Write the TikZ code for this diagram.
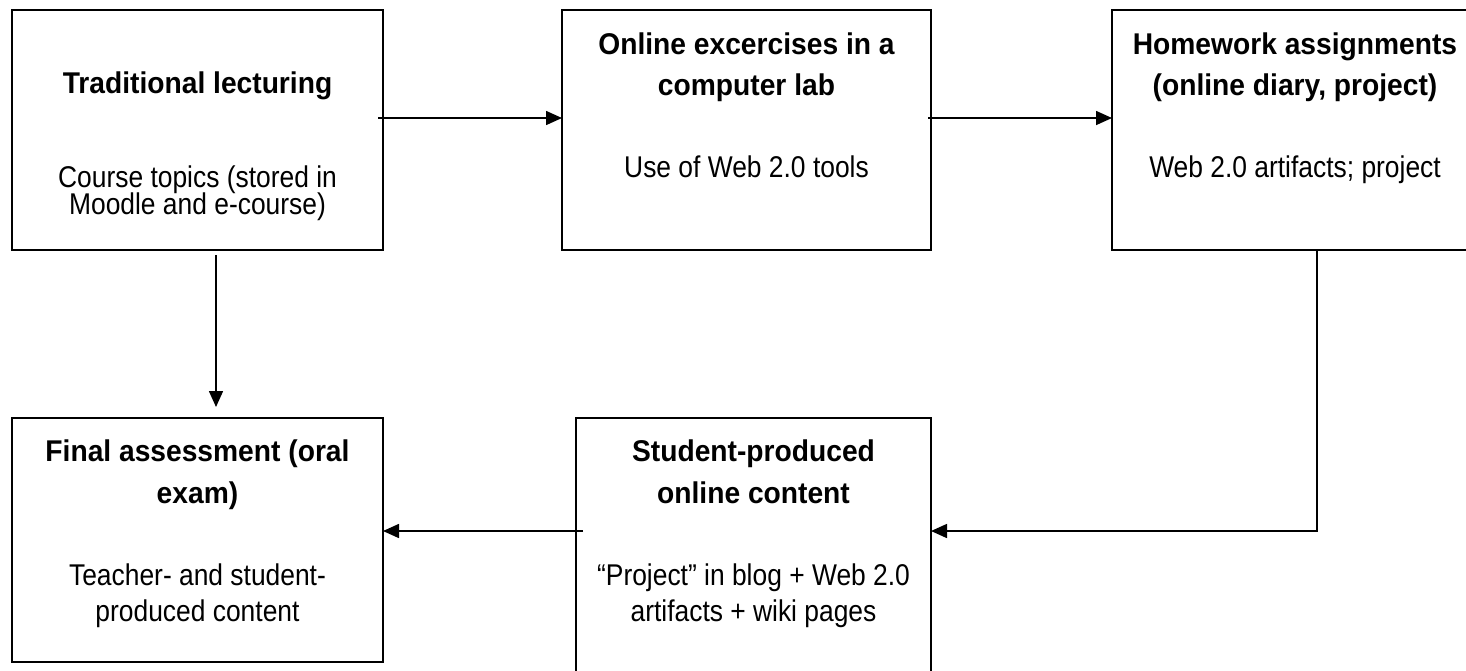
\documentclass[tikz,border=0pt]{standalone}
\usepackage{fontspec}
\setmainfont{Liberation Sans}
\newfontfamily\bodyfont{Liberation Sans}[FakeStretch=0.88,Ligatures=TeX]
\newfontfamily\titlefont{Liberation Sans}[FakeStretch=0.94,Ligatures=TeX]
\usetikzlibrary{arrows.meta}
\begin{document}
\begin{tikzpicture}[x=1pt,y=-1pt,
  box/.style={draw,line width=1.6pt,inner sep=0pt,outer sep=0pt},
  ttl/.style={anchor=base,inner sep=0pt,font=\titlefont\bfseries\fontsize{30}{36}\selectfont},
  bdy/.style={anchor=base,inner sep=0pt,font=\bodyfont\fontsize{30}{36}\selectfont},
  arr/.style={line width=1.6pt,-{Triangle[length=16pt,width=14pt]}}]
\clip (0,0) rectangle (1466,670);
\fill[white] (0,0) rectangle (1466,670);
% boxes
\node[box,minimum width=371pt,minimum height=240pt] (b1) at (197.5,130) {};
\node[box,minimum width=369pt,minimum height=240pt] (b2) at (746.5,130) {};
\node[box,minimum width=366pt,minimum height=240pt] (b3) at (1295,130) {};
\node[box,minimum width=371pt,minimum height=244pt] (b4) at (197.5,540) {};
\node[box,minimum width=355pt,minimum height=262pt] (b5) at (753.5,549) {};
% texts box 1
\node[ttl] (t1) at (197.5,93) {Traditional lecturing};
\node[bdy] (s1a) at (197.5,187) {Course topics (stored in};
\node[bdy] (s1b) at (197.5,214.5) {Moodle and e-course)};
% box 2
\node[ttl] (t2a) at (746.5,54) {Online excercises in a};
\node[ttl] (t2b) at (746.5,95.7) {computer lab};
\node[bdy] (s2) at (746.5,177) {Use of Web 2.0 tools};
% box 3
\node[ttl] (t3a) at (1295,54) {Homework assignments};
\node[ttl] (t3b) at (1295,95.7) {(online diary, project)};
\node[bdy] (s3) at (1295,177) {Web 2.0 artifacts; project};
% box 4
\node[ttl] (t4a) at (197.5,461.7) {Final assessment (oral};
\node[ttl] (t4b) at (197.5,503.3) {exam)};
\node[bdy] (s4a) at (197.5,585) {Teacher- and student-};
\node[bdy] (s4b) at (197.5,621.7) {produced content};
% box 5
\node[ttl] (t5a) at (753.5,461.7) {Student-produced};
\node[ttl] (t5b) at (753.5,503.3) {online content};
\node[bdy] (s5a) at (753.5,585) {“Project” in blog + Web 2.0};
\node[bdy] (s5b) at (753.5,621.7) {artifacts + wiki pages};
% connectors
\draw[arr] ([xshift=-5pt,yshift=12pt]b1.east) -- ([yshift=12pt]b2.west);
\draw[arr] ([xshift=-3pt,yshift=12pt]b2.east) -- ([yshift=12pt]b3.west);
\draw[arr] ([xshift=18.5pt,yshift=-5pt]b1.south) -- ([xshift=18.5pt,yshift=11pt]b4.north);
\draw[arr] ([xshift=22pt]b3.south) |- ([yshift=18pt]b5.east);
\draw[arr] ([xshift=7pt,yshift=18pt]b5.west) -- ([yshift=9pt]b4.east);
\end{tikzpicture}
\end{document}
